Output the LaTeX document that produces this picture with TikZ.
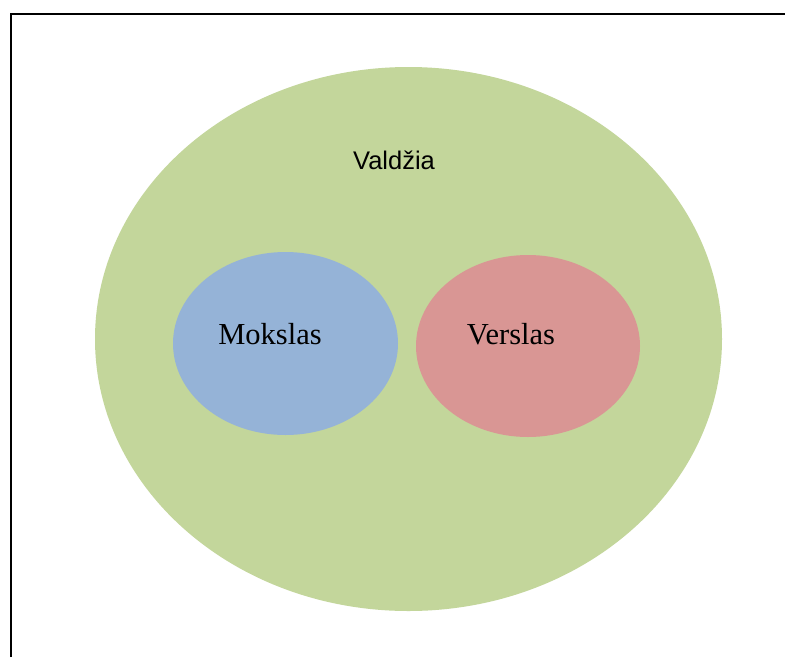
\documentclass[tikz,border=0pt]{standalone}
\usepackage{fontspec}
\setmainfont{Liberation Serif}
\newfontfamily\arialfont{Liberation Sans}
\definecolor{vgreen}{HTML}{C3D69B}
\definecolor{vblue}{HTML}{95B3D7}
\definecolor{vred}{HTML}{D99694}
\begin{document}
\begin{tikzpicture}[x=1pt,y=-1pt,
  blob/.style={ellipse, inner sep=0pt, draw=none},
  lbl/.style={inner sep=0pt, text=black}]
\useasboundingbox (0,0) rectangle (785,657);
\fill[white] (0,0) rectangle (785,657);
\coordinate (fb) at (10.5,657);
\coordinate (fc) at (10.5,13.5);
\coordinate (fr) at (785,13.5);
\draw[line width=2pt] (fb) -- (fc) -- (fr);
\fill[vgreen] (408.5,339) ellipse [x radius=313.5, y radius=272];
\fill[vblue] (285.5,343.5) ellipse [x radius=112.5, y radius=91.5];
\fill[vred] (528,346) ellipse [x radius=112, y radius=91];
\node[lbl, font={\arialfont\fontsize{25.5}{28}\selectfont}] (v) at (394,160) {Valdžia};
\node[lbl, font={\fontsize{30.5}{34}\selectfont}] (m) at (270,334) {Mokslas};
\node[lbl, font={\fontsize{30.5}{34}\selectfont}] (r) at (511,334) {Verslas};
\end{tikzpicture}
\end{document}
